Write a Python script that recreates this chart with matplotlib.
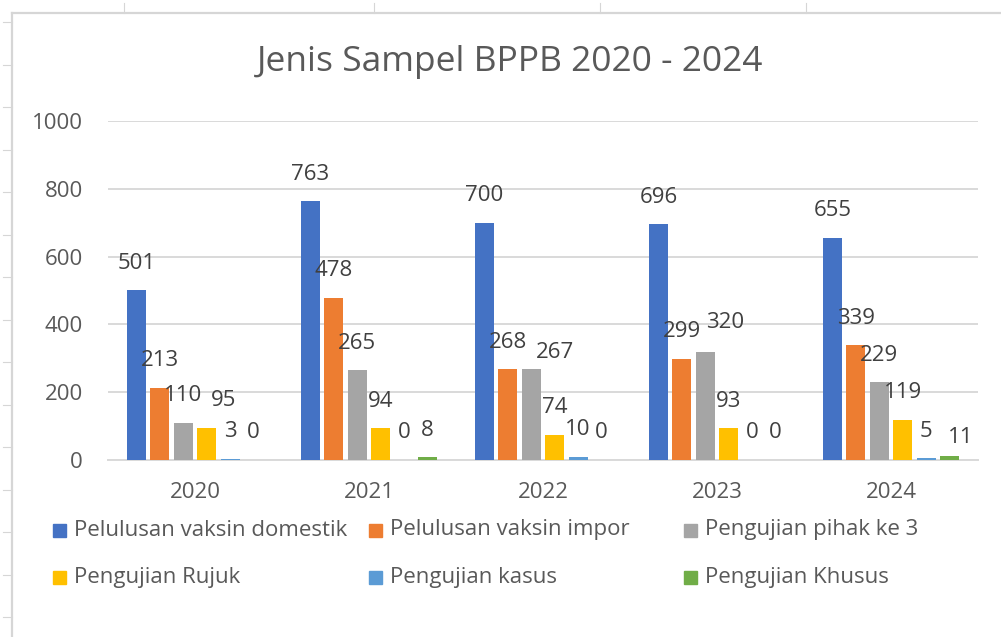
import numpy as np
import matplotlib
matplotlib.use("Agg")
import matplotlib.pyplot as plt
from matplotlib.lines import Line2D
from matplotlib.patches import Rectangle

years = ["2020", "2021", "2022", "2023", "2024"]
series = ["Pelulusan vaksin domestik", "Pelulusan vaksin impor", "Pengujian pihak ke 3",
          "Pengujian Rujuk", "Pengujian kasus", "Pengujian Khusus"]
domestik = [501, 763, 700, 696, 655]
impor = [213, 478, 268, 299, 339]
pihak3 = [110, 265, 267, 320, 229]
rujuk = [95, 94, 74, 93, 119]
kasus = [3, 0, 10, 0, 5]
khusus = [0, 8, 0, 0, 11]
values = [domestik, impor, pihak3, rujuk, kasus, khusus]
colors = ["#4472C4", "#ED7D31", "#A5A5A5", "#FFC000", "#5B9BD5", "#70AD47"]

# labels that were moved by hand in the original (dx, dy in pixels)
nudge = {(0, 3): (17, 0), (2, 2): (24, 10), (3, 2): (20, -2), (4, 5): (11, 8)}

W, H = 1001, 637
plt.rcParams['font.family'] = ['Open Sans', 'DejaVu Sans']
fig = plt.figure(figsize=(W / 100, H / 100), dpi=100)
fig.patch.set_facecolor("white")

def px(x, y):
    return x / W, 1 - y / H

# spreadsheet cell borders around the chart
grid_c = "#d6d6d6"
fig.add_artist(Line2D([12 / W, 1], [1 - 13 / H] * 2, color=grid_c, lw=1.6))
fig.add_artist(Line2D([12 / W] * 2, [0, 1 - 13 / H], color=grid_c, lw=1.6))
for yy in np.arange(22, 637, 42.5):
    fig.add_artist(Line2D([3 / W, 12 / W], [1 - yy / H] * 2, color=grid_c, lw=0.8))
for xx in [124, 374, 600, 806]:
    fig.add_artist(Line2D([xx / W] * 2, [1 - 3 / H, 1 - 13 / H], color=grid_c, lw=0.8))

txt_c = "#595959"
fs = 16

ax = fig.add_axes([108 / W, 177 / H, 870 / W, 339 / H])
x = np.arange(len(years))
pitch = 0.1345
width = 0.109
for i, (vals, c) in enumerate(zip(values, colors)):
    pos = x + (i - 2.5) * pitch
    ax.bar(pos, vals, width=width, color=c, zorder=3)
    for j, v in enumerate(vals):
        dx, dy = nudge.get((j, i), (0, 0))
        ax.annotate(str(v), (pos[j], v), xytext=(dx * 0.72, (27 - dy) * 0.72),
                    textcoords="offset points", ha="center", va="center",
                    fontsize=fs, color="#404040", zorder=4)

ax.set_xlim(-0.5, 4.5)
ax.set_ylim(0, 1000)
ax.set_yticks([0, 200, 400, 600, 800, 1000])
ax.set_xticks(x)
ax.set_xticklabels(years)
ax.yaxis.grid(True, color="#d9d9d9", lw=1.4, zorder=0)
for s in ["top", "right", "left"]:
    ax.spines[s].set_visible(False)
ax.spines["bottom"].set_color("#d9d9d9")
ax.spines["bottom"].set_linewidth(1.4)
ax.tick_params(axis="both", length=0, labelsize=fs, labelcolor=txt_c)
ax.tick_params(axis="y", pad=18)
ax.tick_params(axis="x", pad=16)

fig.text(*px(510, 62), "Jenis Sampel BPPB 2020 - 2024", ha="center", va="center",
         fontsize=25.5, color=txt_c)

# legend, three columns on two rows
leg_x = [53, 369, 684]
leg_y = [530, 577]
for k, (name, c) in enumerate(zip(series, colors)):
    cx = leg_x[k % 3]
    cy = leg_y[k // 3]
    fig.add_artist(Rectangle(px(cx, cy + 6.5), 13 / W, 13 / H, color=c,
                             transform=fig.transFigure))
    fig.text(*px(cx + 21, cy), name, ha="left", va="center", fontsize=fs,
             color=txt_c)

fig.savefig("out.png", dpi=100)
